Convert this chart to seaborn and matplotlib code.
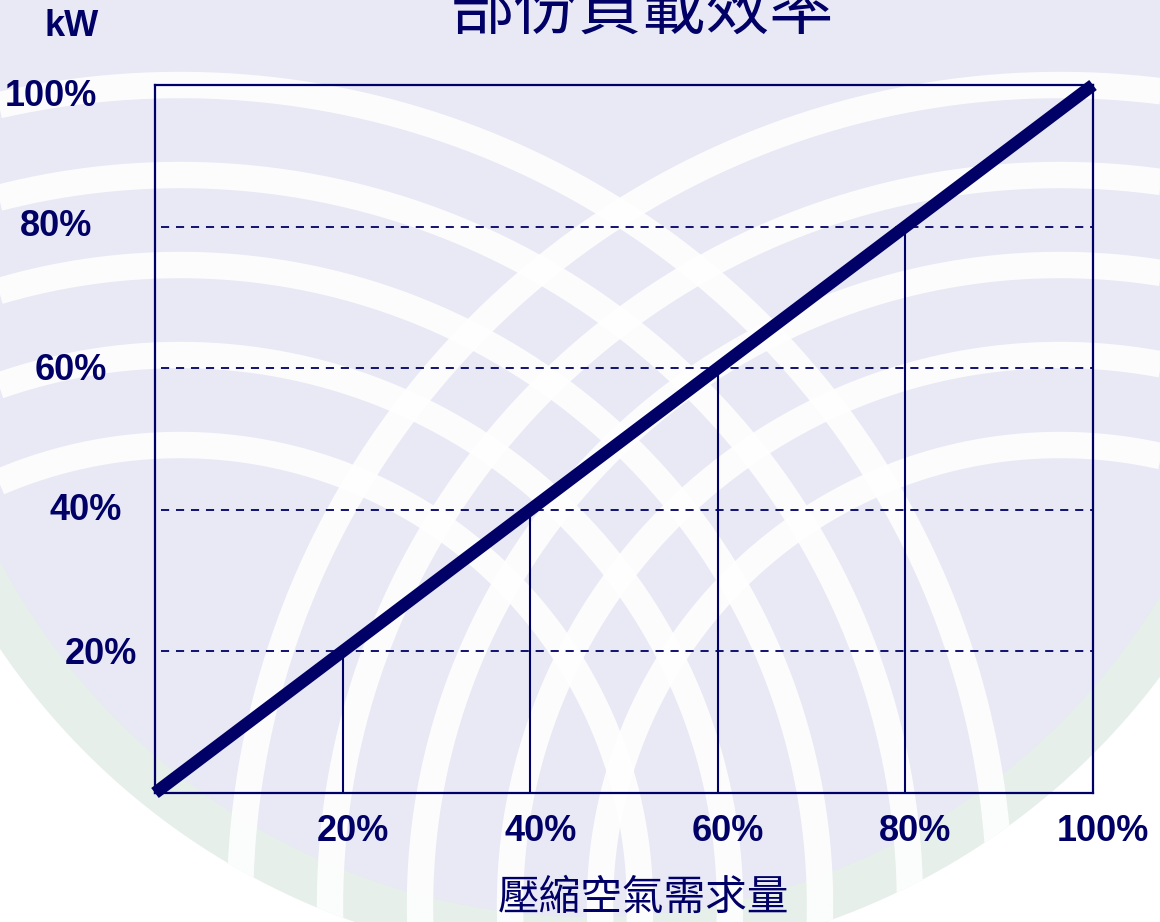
import numpy as np
import matplotlib
matplotlib.use("Agg")
import matplotlib.pyplot as plt
import seaborn as sns

# ---- data -------------------------------------------------------------
demand_pct = [0, 100]          # compressed-air demand (x)
power_pct = [0, 100]           # power consumption (y)
ref_levels = [20, 40, 60, 80]  # guide levels
x_tick_values = [20, 40, 60, 80, 100]
x_tick_labels = ["20%", "40%", "60%", "80%", "100%"]
y_tick_values = [20, 40, 60, 80, 100]
y_tick_labels = ["20%", "40%", "60%", "80%", "100%"]

title_text = "部份負載效率"
xlabel_text = "壓縮空氣需求量"
ylabel_text = "kW"

# ---- style ------------------------------------------------------------
NAVY = "#000066"
sns.set_theme(style="white")
plt.rcParams["font.family"] = ["Liberation Sans", "DejaVu Sans"]

W, H, DPI = 1160, 922, 100
fig = plt.figure(figsize=(W / DPI, H / DPI), dpi=DPI, facecolor="white")

# decorative watermark behind the chart (pixel coordinates)
bg = fig.add_axes([0, 0, 1, 1], zorder=-5)
bg.set_xlim(0, W)
bg.set_ylim(H, 0)
bg.axis("off")
t = np.linspace(0, 2 * np.pi, 720)
cx0, cy0, R0 = 590, 250, 712
bg.fill(cx0 + R0 * np.cos(t), cy0 + R0 * np.sin(t), color="#e6efe9", lw=0)
bg.fill(cx0 + (R0 - 45) * np.cos(t), cy0 + (R0 - 45) * np.sin(t),
        color="#e8e9f4", lw=0)
clip_circle = plt.Circle((cx0, cy0), R0, transform=bg.transData)

# soft green tint fading in from both side edges
xs = np.linspace(0, 1, 400)
fade = np.clip(1 - xs / 0.12, 0, 1) + np.clip((xs - 0.9) / 0.1, 0, 1)
tint = np.zeros((2, xs.size, 4))
tint[..., :3] = np.array([0.90, 0.94, 0.91])
tint[..., 3] = 0.75 * fade
img = bg.imshow(tint, extent=(0, W, H, 0), aspect="auto", zorder=0.5,
                interpolation="bilinear")
img.set_clip_path(clip_circle)

arc_t = np.linspace(0, 2 * np.pi, 1400)
arc_cx, arc_cy = 180, 905
for r in [460, 550, 640, 730, 820]:
    for x0 in (arc_cx, 1240 - arc_cx):
        ln, = bg.plot(x0 + r * np.cos(arc_t), arc_cy + r * np.sin(arc_t),
                      color="white", lw=19, alpha=0.88, solid_capstyle="butt",
                      zorder=1)
        ln.set_clip_path(clip_circle)
bg.set_xlim(0, W)
bg.set_ylim(H, 0)

# ---- chart ------------------------------------------------------------
ax = fig.add_axes([155 / W, 1 - 793 / H, 938 / W, 708 / H])
ax.set_facecolor("none")
ax.set_xlim(0, 100)
ax.set_ylim(0, 100)

ax.hlines(ref_levels, 0.6, 100, colors=NAVY, lw=1.3,
          linestyles=(0, (4.5, 3.8)), zorder=2)
ax.vlines(ref_levels, 0, ref_levels, colors=NAVY, lw=1.5, zorder=2)

sns.lineplot(x=demand_pct, y=power_pct, ax=ax, color=NAVY, lw=9,
             solid_capstyle="butt", zorder=4, clip_on=False)

for side in ["left", "right", "top", "bottom"]:
    ax.spines[side].set_visible(True)
    ax.spines[side].set_color(NAVY)
    ax.spines[side].set_linewidth(1.6)
ax.set_xticks([])
ax.set_yticks([])
ax.set_xlabel("")
ax.set_ylabel("")

label_font = dict(fontsize=26, fontweight="bold", color=NAVY)

# x labels sit just right of each guide line
for v, lab in zip(x_tick_values, x_tick_labels):
    ax.annotate(lab, xy=(v, 0), xytext=(10, -38), textcoords="offset pixels",
                ha="center", va="center", annotation_clip=False, **label_font)

# y labels are staggered in a diagonal
y_label_gaps = [18, 33, 48, 63, 58]
y_label_dy = [-3, -1, -2, 0, -11]
for v, lab, gap, dy in zip(y_tick_values, y_tick_labels, y_label_gaps, y_label_dy):
    ax.annotate(lab, xy=(0, v), xytext=(-gap, dy), textcoords="offset pixels",
                ha="right", va="center", annotation_clip=False, **label_font)

fig.text(72 / W, 1 - 26 / H, ylabel_text, ha="center", va="center", **label_font)

cjk = ["Noto Sans CJK TC", "DejaVu Sans"]
fig.text(642 / W, 1 - 10 / H, title_text, ha="center", va="center",
         fontsize=46, color=NAVY, family=cjk, fontweight="medium")
fig.text(643 / W, 1 - 898 / H, xlabel_text, ha="center", va="center",
         fontsize=30, color=NAVY, family=cjk, fontweight="medium")

fig.savefig("out.png", dpi=DPI, facecolor="white")
